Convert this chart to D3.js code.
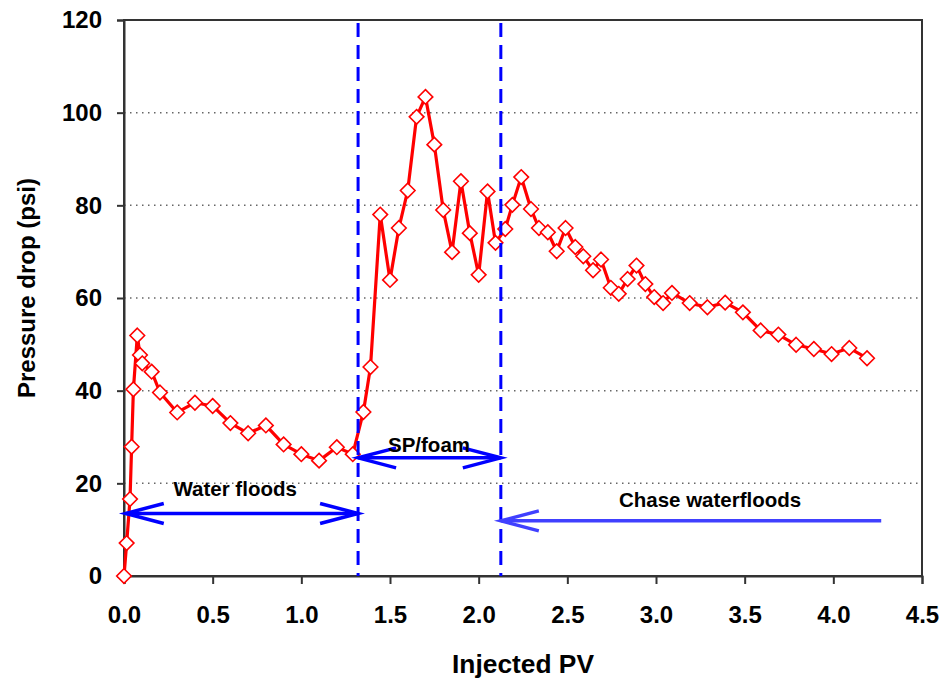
<!DOCTYPE html>
<html>
<head>
<meta charset="utf-8">
<script src="https://cdn.jsdelivr.net/npm/d3@7"></script>
<style>
  html, body { margin: 0; padding: 0; background: #fff; }
  svg { display: block; font-family: "Liberation Sans", Arial, sans-serif; font-weight: bold; }
</style>
</head>
<body>
<svg id="chart" width="943" height="684"></svg>
<script>
// ---- data ----
const injectedPV = [0.00, 0.015, 0.034, 0.043, 0.053, 0.075, 0.09, 0.103, 0.156, 0.203,
  0.30, 0.40, 0.50, 0.60, 0.70, 0.80, 0.90, 1.00, 1.10, 1.20, 1.29,
  1.35, 1.39, 1.445, 1.50, 1.55, 1.60, 1.65, 1.70, 1.75, 1.80, 1.85, 1.90, 1.95, 2.00, 2.05, 2.095,
  2.15, 2.19, 2.24, 2.295, 2.34, 2.39, 2.44, 2.49, 2.545, 2.59, 2.645, 2.69, 2.745, 2.79, 2.84, 2.89,
  2.94, 2.99, 3.04, 3.09, 3.19, 3.29, 3.39, 3.49, 3.59, 3.69, 3.79, 3.89, 3.99, 4.09, 4.19];
const pressureDrop = [0, 7.1, 16.6, 27.9, 40.3, 51.9, 47.7, 45.9, 44.1, 39.6,
  35.3, 37.4, 36.7, 33.0, 30.8, 32.5, 28.4, 26.3, 24.9, 27.8, 26.3,
  35.4, 45.1, 78.0, 63.9, 75.1, 83.2, 99.1, 103.4, 93.1, 79.0, 69.9, 85.2, 74.0, 65.0, 83.0, 71.9,
  74.9, 80.1, 86.1, 79.2, 75.1, 74.2, 70.1, 75.1, 71.0, 69.0, 66.0, 68.3, 62.2, 60.9, 64.1, 67.0,
  63.0, 60.2, 58.9, 61.1, 58.9, 58.0, 59.0, 56.9, 53.0, 52.1, 49.9, 49.0, 47.9, 49.2, 47.0];
const xTicks = [0, 0.5, 1.0, 1.5, 2.0, 2.5, 3.0, 3.5, 4.0, 4.5];
const yTicks = [0, 20, 40, 60, 80, 100, 120];
const gridValues = [20, 40, 60, 80, 100];
const phaseBoundaries = [1.32, 2.125];
// annotation arrows in data units: [from PV, to PV, pressure, heads]
const arrowStarts = [0.01, 1.32, 4.27];
const arrowEnds   = [1.32, 2.125, 2.125];
const arrowLevels = [13.5, 25.5, 11.9];
const arrowBoth   = [true, true, false];
const arrowColors = ["#0000ff", "#0000ff", "#4040ff"];
const labelTexts = ["Water floods", "SP/foam", "Chase waterfloods"];
const labelPV    = [0.627, 1.72, 3.305];
const labelLevel = [17.3, 26.8, 14.8];

// ---- layout ----
const svg = d3.select("#chart");
const x = d3.scaleLinear().domain([0, 4.5]).range([124, 922]);
const y = d3.scaleLinear().domain([0, 120]).range([576, 20]);

// gridlines
svg.append("g").selectAll("line").data(gridValues).join("line")
  .attr("x1", x(0)).attr("x2", x(4.5))
  .attr("y1", d => y(d)).attr("y2", d => y(d))
  .attr("stroke", "#666").attr("stroke-width", 1.5).attr("stroke-dasharray", "1.5,4.5");

// frame
svg.append("rect").attr("x", x(0)).attr("y", y(120))
  .attr("width", x(4.5) - x(0)).attr("height", y(0) - y(120))
  .attr("fill", "none").attr("stroke", "#333").attr("stroke-width", 2);

// axes
const xAxis = svg.append("g").attr("transform", `translate(0,${y(0)})`)
  .call(d3.axisBottom(x).tickValues(xTicks).tickFormat(d3.format(".1f")).tickSize(8).tickPadding(22));
const yAxis = svg.append("g").attr("transform", `translate(${x(0)},0)`)
  .call(d3.axisLeft(y).tickValues(yTicks).tickFormat(d3.format("d")).tickSize(7).tickPadding(15));
[xAxis, yAxis].forEach(a => {
  a.select(".domain").attr("stroke", "#333").attr("stroke-width", 2);
  a.selectAll(".tick line").attr("stroke", "#333").attr("stroke-width", 2);
  a.selectAll(".tick text").attr("fill", "#000")
    .style("font-family", '"Liberation Sans", Arial, sans-serif')
    .style("font-weight", "bold").style("font-size", "24px");
});

// axis titles
svg.append("text").attr("x", (x(0) + x(4.5)) / 2).attr("y", 673)
  .attr("text-anchor", "middle").style("font-size", "26px")
  .attr("textLength", 142).attr("lengthAdjust", "spacingAndGlyphs").text("Injected PV");
svg.append("text").attr("transform", `translate(35,${(y(0) + y(120)) / 2 - 10}) rotate(-90)`)
  .attr("text-anchor", "middle").style("font-size", "24px").text("Pressure drop (psi)");

// series
const pts = injectedPV.map((v, i) => [v, pressureDrop[i]]);
svg.append("path").datum(pts)
  .attr("d", d3.line().x(d => x(d[0])).y(d => y(d[1])))
  .attr("fill", "none").attr("stroke", "#ff0000").attr("stroke-width", 3.2)
  .attr("stroke-linejoin", "round");
svg.append("g").selectAll("path").data(pts).join("path")
  .attr("transform", d => `translate(${x(d[0])},${y(d[1])})`)
  .attr("d", "M0,-7.3L7.3,0L0,7.3L-7.3,0Z")
  .attr("fill", "#fff").attr("stroke", "#ff0000").attr("stroke-width", 1.6);

// phase boundaries
svg.append("g").selectAll("line").data(phaseBoundaries).join("line")
  .attr("x1", d => x(d)).attr("x2", d => x(d))
  .attr("y1", y(120) + 3).attr("y2", y(0))
  .attr("stroke", "#0000ff").attr("stroke-width", 3).attr("stroke-dasharray", "14,8");

// arrows
const ag = svg.append("g");
arrowStarts.forEach((s, i) => {
  const xa = x(s), xb = x(arrowEnds[i]), yy = y(arrowLevels[i]);
  const col = arrowColors[i];
  ag.append("line").attr("x1", xa).attr("x2", xb).attr("y1", yy).attr("y2", yy)
    .attr("stroke", col).attr("stroke-width", 3.5);
  const dir = xb > xa ? -1 : 1;
  const head = (tx) => {
    const d2 = tx === xb ? dir : -dir;
    ag.append("path").attr("d", `M${tx + d2 * 38},${yy - 10}L${tx},${yy}L${tx + d2 * 38},${yy + 10}`)
      .attr("fill", "none").attr("stroke", col).attr("stroke-width", 3.5);
  };
  head(xb);
  if (arrowBoth[i]) head(xa);
});

// labels
svg.append("g").selectAll("text").data(labelTexts).join("text")
  .attr("x", (d, i) => x(labelPV[i])).attr("y", (d, i) => y(labelLevel[i]))
  .attr("text-anchor", "middle").style("font-size", "20.5px").attr("fill", "#000")
  .text(d => d);
</script>
</body>
</html>
